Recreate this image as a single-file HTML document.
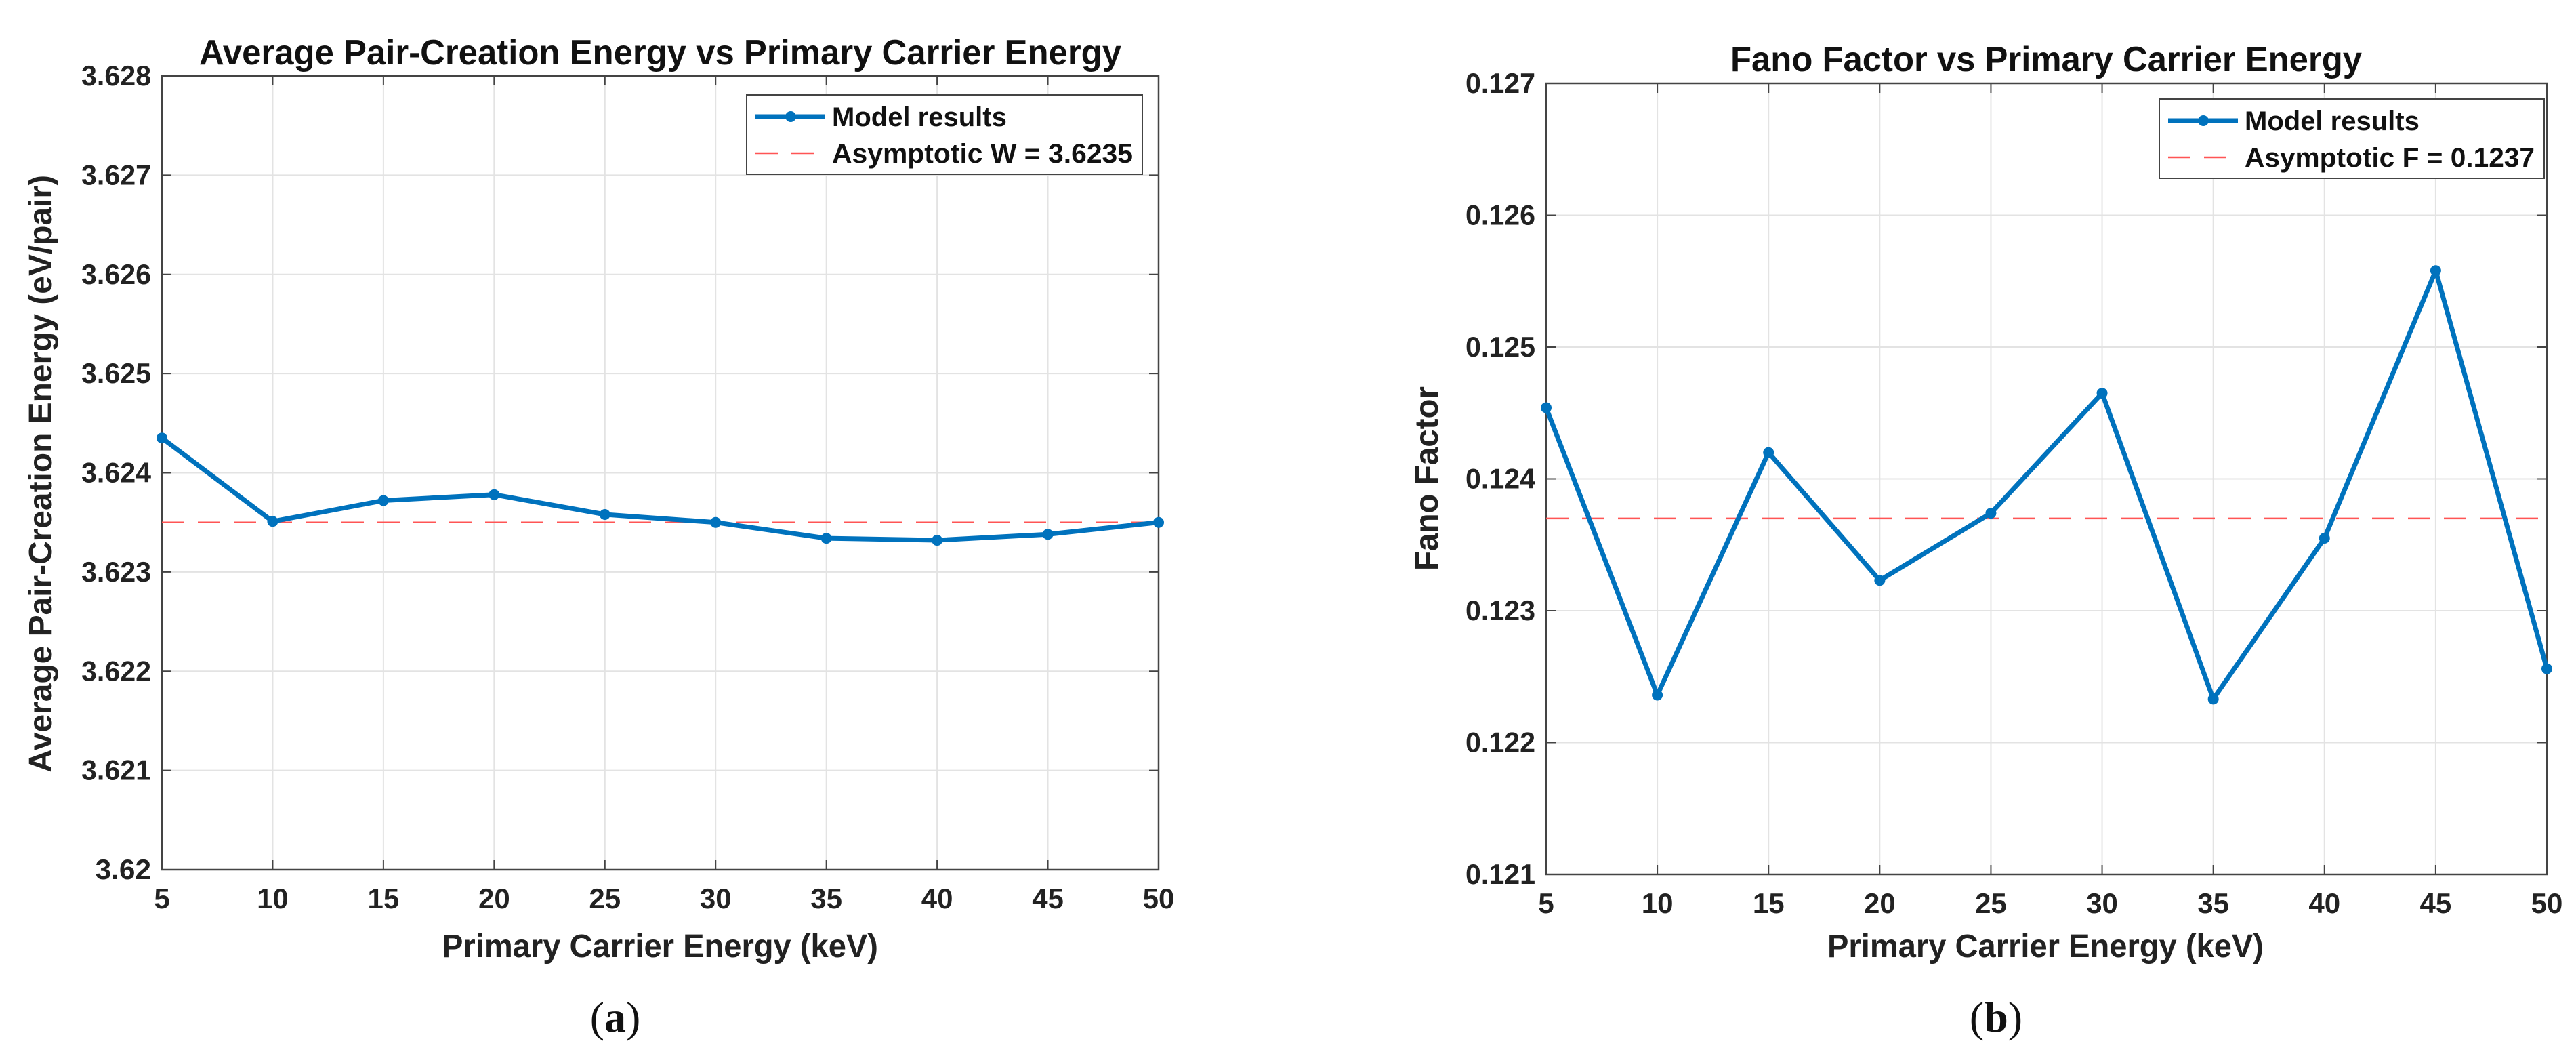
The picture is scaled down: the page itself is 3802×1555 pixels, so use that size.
<!DOCTYPE html>
<html><head><meta charset="utf-8"><style>
html,body{margin:0;padding:0;background:#fff;}
svg{display:block;font-family:"Liberation Sans",Arial,sans-serif;}
</style></head><body>
<svg id="fig" width="3802" height="1555" viewBox="0 0 3802 1555" xmlns="http://www.w3.org/2000/svg"></svg>
<script>
// ---- Data ----
const xCats = [5,10,15,20,25,30,35,40,45,50];
const wValues = [3.62435,3.62351,3.62372,3.62378,3.62358,3.62350,3.62334,3.62332,3.62338,3.62350];
const fanoValues = [0.12454,0.12236,0.12420,0.12323,0.12374,0.12465,0.12233,0.12355,0.12558,0.12256];
const wAsym = [3.6235];
const fanoAsym = [0.1237];
const wTicks = ["3.62","3.621","3.622","3.623","3.624","3.625","3.626","3.627","3.628"];
const fanoTicks = ["0.121","0.122","0.123","0.124","0.125","0.126","0.127"];
const xTicks = ["5","10","15","20","25","30","35","40","45","50"];

const NS="http://www.w3.org/2000/svg";
const svg=document.getElementById('fig');
function mk(tag,attrs,parent){const e=document.createElementNS(NS,tag);for(const k in attrs)e.setAttribute(k,attrs[k]);(parent||svg).appendChild(e);return e;}

function panel(cfg){
  const g=mk('g',{});
  
  
  const L=cfg.L,R=cfg.R,T=cfg.T,B=cfg.B;
  const xs=v=>L+(v-5)/45*(R-L);
  const ys=v=>B-(v-cfg.ymin)/(cfg.ymax-cfg.ymin)*(B-T);
  // grid
  xTicks.forEach(t=>{const v=+t;
    const l=mk('line',{x1:xs(v),x2:xs(v),y1:T,y2:B,stroke:'#e3e3e3','stroke-width':2},g);
    
    
    mk('line',{x1:xs(v),x2:xs(v),y1:B,y2:B-14,stroke:'#444','stroke-width':2},g);
    mk('line',{x1:xs(v),x2:xs(v),y1:T,y2:T+14,stroke:'#444','stroke-width':2},g);
    const tx=mk('text',{x:xs(v),y:B+57,'text-anchor':'middle','font-size':42,'font-weight':'bold',fill:'#222'},g);
    tx.textContent=t;
    
    
  });
  cfg.ticks.forEach(t=>{const v=+t;
    const l=mk('line',{x1:L,x2:R,y1:ys(v),y2:ys(v),stroke:'#e3e3e3','stroke-width':2},g);
    
    
    mk('line',{x1:L,x2:L+14,y1:ys(v),y2:ys(v),stroke:'#444','stroke-width':2},g);
    mk('line',{x1:R,x2:R-14,y1:ys(v),y2:ys(v),stroke:'#444','stroke-width':2},g);
    const tx=mk('text',{x:L-16,y:ys(v)+14,'text-anchor':'end','font-size':42,'font-weight':'bold',fill:'#222',textLength:cfg.tickW*t.length/5,lengthAdjust:'spacingAndGlyphs'},g);
    tx.textContent=t;
    
    
  });
  const box=mk('rect',{x:L,y:T,width:R-L,height:B-T,fill:'none',stroke:'#444','stroke-width':2.5},g);
  
  
  // asymptote
  const a=mk('line',{x1:L,x2:R,y1:ys(cfg.asym[0]),y2:ys(cfg.asym[0]),stroke:'#ff5555','stroke-width':2.5,'stroke-dasharray':'33 20'},g);
  
  
  // series
  const pts=xCats.map((x,i)=>xs(x)+','+ys(cfg.vals[i])).join(' ');
  const pl=mk('polyline',{points:pts,fill:'none',stroke:'#0072BD','stroke-width':7,'stroke-linejoin':'round'},g);
  
  
  xCats.forEach((x,i)=>{
    const c=mk('circle',{cx:xs(x),cy:ys(cfg.vals[i]),r:8,fill:'#0072BD'},g);
    
    
  });
  // title, labels
  const ti=mk('text',{x:cfg.titleX,y:cfg.titleY,'font-size':52,'font-weight':'bold',fill:'#111',textLength:cfg.titleW,lengthAdjust:'spacingAndGlyphs'},g);
  ti.textContent=cfg.title;
  
  
  const xl=mk('text',{x:cfg.xlX,y:1412,'font-size':48,'font-weight':'bold',fill:'#222',textLength:644,lengthAdjust:'spacingAndGlyphs'},g);
  xl.textContent='Primary Carrier Energy (keV)';
  
  
  const yl=mk('text',{x:0,y:0,'font-size':48,'font-weight':'bold',fill:'#222','text-anchor':'middle',textLength:cfg.ylW,lengthAdjust:'spacingAndGlyphs',transform:`translate(${cfg.ylX},${cfg.ylY}) rotate(-90)`},g);
  yl.textContent=cfg.ylabel;
  
  
  // legend
  const lg=mk('g',{},g);
  
  
  mk('rect',{x:cfg.lgX,y:cfg.lgY,width:cfg.lgW,height:117,fill:'#fff',stroke:'#444','stroke-width':2},lg);
  mk('line',{x1:cfg.lgX+13,x2:cfg.lgX+116,y1:cfg.lgY+32,y2:cfg.lgY+32,stroke:'#0072BD','stroke-width':7},lg);
  mk('circle',{cx:cfg.lgX+65,cy:cfg.lgY+32,r:8,fill:'#0072BD'},lg);
  mk('line',{x1:cfg.lgX+13,x2:cfg.lgX+116,y1:cfg.lgY+86,y2:cfg.lgY+86,stroke:'#ff5555','stroke-width':2.5,'stroke-dasharray':'33 20'},lg);
  const t1=mk('text',{x:cfg.lgX+126,y:cfg.lgY+46,'font-size':40,'font-weight':'bold',fill:'#111'},lg);
  t1.textContent='Model results';
  
  
  const t2=mk('text',{x:cfg.lgX+126,y:cfg.lgY+100,'font-size':40,'font-weight':'bold',fill:'#111',textLength:cfg.lgW-140,lengthAdjust:'spacingAndGlyphs'},lg);
  t2.textContent=cfg.asymLabel;
  
  
  const cap=mk('text',{x:cfg.capX,y:1522,'text-anchor':'middle','font-size':64,'font-family':'"Liberation Serif",serif',fill:'#111'},g);
  cap.innerHTML=cfg.cap;
  
  
}
panel({name:'panel-a',L:239,R:1710,T:112,B:1283,ymin:3.620,ymax:3.628,ticks:wTicks,vals:wValues,asym:wAsym,tickW:103,
  title:'Average Pair-Creation Energy vs Primary Carrier Energy',titleX:294,titleY:95,titleW:1361,xlX:652,
  ylabel:'Average Pair-Creation Energy (eV/pair)',ylX:76,ylY:699,ylW:882,
  lgX:1102,lgY:140,lgW:584,asymLabel:'Asymptotic W = 3.6235',capX:908,cap:'(<tspan font-weight="bold">a</tspan>)'});
panel({name:'panel-b',L:2282,R:3759,T:123,B:1290,ymin:0.121,ymax:0.127,ticks:fanoTicks,vals:fanoValues,asym:fanoAsym,tickW:103,
  title:'Fano Factor vs Primary Carrier Energy',titleX:2554,titleY:105,titleW:932,xlX:2697,
  ylabel:'Fano Factor',ylX:2122,ylY:706,ylW:272,
  lgX:3187,lgY:146,lgW:568,asymLabel:'Asymptotic F = 0.1237',capX:2946,cap:'(<tspan font-weight="bold">b</tspan>)'});
</script>
</body></html>
